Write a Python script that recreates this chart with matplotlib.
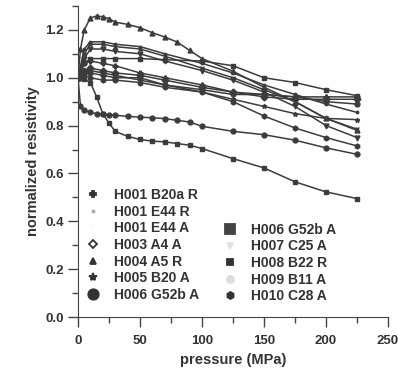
import matplotlib
matplotlib.use("Agg")
import matplotlib.pyplot as plt
from matplotlib.lines import Line2D
from matplotlib.ticker import MultipleLocator

plt.rcParams['font.family'] = ['Liberation Sans', 'DejaVu Sans']
plt.rcParams['font.weight'] = 'bold'

# pressure grids (MPa)
p_dense = [0, 2, 5, 10, 15, 20, 25, 30, 40, 50, 60, 70, 80, 90, 100, 125, 150, 175, 200, 225]
p_sparse = [0, 5, 10, 20, 30, 50, 70, 100, 125, 150, 175, 200, 225]

# normalized resistivity
h001_b20a_r = [1.0, 1.06, 1.07, 1.06, 1.05, 1.02, 1.00, 0.97, 0.94, 0.93, 0.92, 0.92, 0.92]
h001_e44_r = [1.0, 1.12, 1.15, 1.15, 1.14, 1.13, 1.10, 1.06, 1.02, 0.97, 0.93, 0.89, 0.855]
h001_e44_a = [1.0, 1.10, 1.14, 1.14, 1.13, 1.12, 1.09, 1.04, 1.00, 0.95, 0.90, 0.83, 0.785]
h003_a4_a = [1.0, 1.03, 1.04, 1.03, 1.02, 1.01, 0.99, 0.96, 0.94, 0.92, 0.91, 0.91, 0.91]
h004_a5_r = [1.0, 1.12, 1.20, 1.25, 1.258, 1.255, 1.247, 1.232, 1.223, 1.209, 1.188, 1.170,
             1.149, 1.114, 1.08, 1.027, 0.96, 0.90, 0.83, 0.78]
h005_b20_a = [1.0, 1.03, 1.03, 1.02, 1.01, 0.99, 0.97, 0.94, 0.91, 0.88, 0.85, 0.83, 0.825]
h006_g52b_a_c = [1.0, 0.88, 0.865, 0.855, 0.85, 0.847, 0.845, 0.843, 0.839, 0.835, 0.833, 0.829,
                 0.822, 0.815, 0.797, 0.776, 0.762, 0.739, 0.707, 0.68]
h006_g52b_a_s = [1.0, 1.0, 0.995, 0.98, 0.92, 0.85, 0.81, 0.776, 0.755, 0.742, 0.735, 0.732,
                 0.725, 0.718, 0.704, 0.662, 0.623, 0.565, 0.523, 0.495]
h007_c25_a = [1.0, 1.08, 1.12, 1.12, 1.11, 1.10, 1.07, 1.03, 0.99, 0.94, 0.88, 0.80, 0.75]
h008_b22_r = [1.0, 1.06, 1.08, 1.08, 1.08, 1.08, 1.075, 1.07, 1.05, 1.00, 0.98, 0.95, 0.925]
h009_b11_a = [1.0, 1.02, 1.02, 1.01, 1.00, 1.00, 0.97, 0.95, 0.93, 0.93, 0.92, 0.90, 0.89]
h010_c28_a = [1.0, 1.01, 1.00, 0.99, 0.99, 0.98, 0.96, 0.94, 0.90, 0.84, 0.79, 0.75, 0.715]

# label, x, y, marker, legend marker colour, legend marker size, legend column
series = [
    ("H001 B20a R", p_sparse, h001_b20a_r, "P", "#333333", 5, 1),
    ("H001 E44 R", p_sparse, h001_e44_r, ".", "#aaaaaa", 3, 1),
    ("H001 E44 A", p_sparse, h001_e44_a, "x", "#fafafa", 4, 1),
    ("H003 A4 A", p_sparse, h003_a4_a, "D", "#333333", 4, 1),
    ("H004 A5 R", p_dense, h004_a5_r, "^", "#333333", 5, 1),
    ("H005 B20 A", p_sparse, h005_b20_a, "*", "#333333", 6, 1),
    ("H006 G52b A", p_dense, h006_g52b_a_c, "o", "#333333", 7.5, 1),
    ("H006 G52b A", p_dense, h006_g52b_a_s, "s", "#444444", 7.5, 2),
    ("H007 C25 A", p_sparse, h007_c25_a, "v", "#e2e2e2", 5, 2),
    ("H008 B22 R", p_sparse, h008_b22_r, "s", "#333333", 4, 2),
    ("H009 B11 A", p_sparse, h009_b11_a, "o", "#dddddd", 5, 2),
    ("H010 C28 A", p_sparse, h010_c28_a, "h", "#333333", 5, 2),
]

fig = plt.figure(figsize=(3.98, 3.70), dpi=100)
ax = fig.add_axes([0.196, 0.143, 0.779, 0.841])

line_col = "#3c3c3c"
for label, x, y, m, lc, lms, col in series:
    ax.plot(x, y, color=line_col, lw=1.1, marker=m, ms=3.5, mfc=line_col, mec=line_col)

ax.set_xlim(0, 250)
ax.set_ylim(0, 1.3)
ax.xaxis.set_major_locator(MultipleLocator(50))
ax.xaxis.set_minor_locator(MultipleLocator(25))
ax.yaxis.set_minor_locator(MultipleLocator(0.1))
ax.set_yticks([0.0, 0.2, 0.4, 0.6, 0.8, 1.0, 1.2])
ax.set_yticklabels(["0.0", "0.2", "0.4", "0.6", "0.8", "1.0", "1.2"])
ax.spines['top'].set_visible(False)
ax.spines['right'].set_visible(False)
for s in ['left', 'bottom']:
    ax.spines[s].set_color("#444444")
ax.tick_params(which='major', length=7, width=1, color="#444444", labelsize=9.5,
               labelcolor="#333333", pad=3)
ax.tick_params(which='minor', length=4, width=1, color="#444444")
ax.tick_params(axis='x', pad=6)

ax.set_xlabel("pressure (MPa)", fontsize=10.5, fontweight='bold', color="#333333", labelpad=4)
ax.set_ylabel("normalized resistivity", fontsize=10.5, fontweight='bold', color="#333333",
              labelpad=4)

def handles_for(col):
    hs, ls = [], []
    for label, x, y, m, lc, lms, c in series:
        if c != col:
            continue
        mfc = "white" if m == "D" else lc
        hs.append(Line2D([], [], ls='none', marker=m, ms=lms, color=lc, mfc=mfc, mec=lc,
                         mew=1.3))
        ls.append(label)
    return hs, ls

h1, l1 = handles_for(1)
h2, l2 = handles_for(2)
leg_kw = dict(frameon=False, fontsize=10, handlelength=1.0, handletextpad=1.0,
              labelspacing=0.19, borderpad=0, borderaxespad=0, labelcolor="#333333")
leg1 = ax.legend(h1, l1, loc='upper left', bbox_to_anchor=(0.026, 0.415), **leg_kw)
ax.add_artist(leg1)
ax.legend(h2, l2, loc='upper left', bbox_to_anchor=(0.469, 0.303), **leg_kw)

fig.savefig("out.png", dpi=100)
